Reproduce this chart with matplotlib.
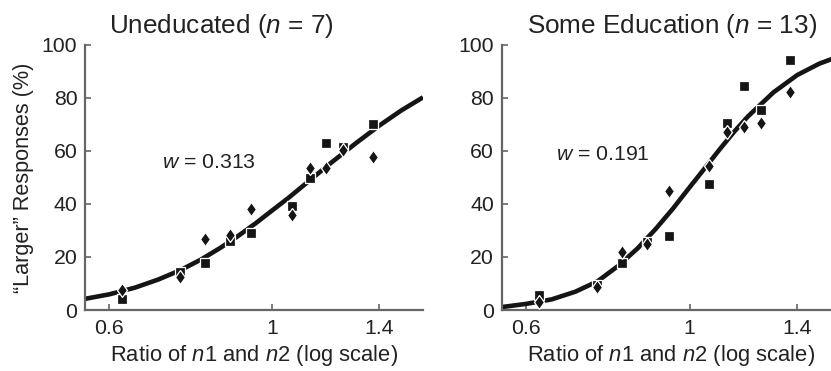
import matplotlib
matplotlib.use("Agg")
import matplotlib.pyplot as plt
from matplotlib import font_manager
from matplotlib.markers import MarkerStyle
from matplotlib.transforms import Affine2D
from matplotlib.ticker import NullLocator


def pick(fams):
    for f in fams:
        try:
            font_manager.findfont(f, fallback_to_default=False)
            return f
        except Exception:
            pass
    return "DejaVu Sans"


FONT = pick(["Liberation Sans", "DejaVu Sans"])
plt.rcParams["font.family"] = [FONT, "DejaVu Sans"]
plt.rcParams["mathtext.fontset"] = "custom"
plt.rcParams["mathtext.rm"] = FONT
plt.rcParams["mathtext.it"] = FONT + ":italic"

# ---------------- data ----------------
ratios = [0.625, 0.75, 0.81, 0.875, 0.937, 1.063, 1.125, 1.185, 1.25, 1.37]
unedu_sq = [4.0, 14.4, 17.8, 26.0, 29.1, 39.2, 49.6, 63.0, 61.5, 70.1]
unedu_di = [7.6, 12.5, 26.7, 28.4, 37.9, 35.8, 53.6, 53.5, 60.2, 57.5]
edu_sq = [5.6, 9.4, 17.6, 25.7, 27.9, 47.4, 70.3, 84.5, 75.4, 94.2]
edu_di = [3.1, 8.5, 22.0, 24.9, 44.7, 54.3, 67.1, 68.9, 70.3, 82.2]

curve_x = [0.556, 0.6, 0.65, 0.7, 0.75, 0.8, 0.85, 0.9, 0.95, 1.0, 1.05,
           1.1, 1.15, 1.2, 1.3, 1.4, 1.5, 1.605]
unedu_fit = [4.2, 5.9, 8.4, 11.5, 15.0, 19.0, 23.4, 28.0, 32.7, 37.5, 42.0,
             46.6, 51.0, 55.2, 62.8, 69.5, 75.2, 80.1]
edu_fit = [1.1, 2.3, 4.0, 6.9, 10.8, 16.6, 23.2, 30.6, 38.3, 46.2, 53.6,
           60.7, 67.2, 72.9, 82.0, 88.5, 92.8, 95.8]

titles = [r"Uneducated ($n$ = 7)", r"Some Education ($n$ = 13)"]
w_labels = [r"$w$ = 0.313", r"$w$ = 0.191"]
xticks = [0.6, 1, 1.4]
xtick_labels = ["0.6", "1", "1.4"]
yticks = [0, 20, 40, 60, 80, 100]
xlabel = r"Ratio of $n$1 and $n$2 (log scale)"
ylabel = "\u201cLarger\u201d Responses (%)"

# ---------------- figure ----------------
W, H = 831, 371
fig = plt.figure(figsize=(W / 100, H / 100), dpi=100)

axes_px = [(85, 338), (501.7, 339.3)]
bottom_px, top_px = 310, 44.5
title_cx = [221, 672.5]
wpos = [(162.5, 163), (556.5, 154)]

diamond = MarkerStyle("D", transform=Affine2D().scale(0.75, 1.0))
spine_col = "#666666"
ink = "#151515"
txt = "#222222"

panels = [(unedu_sq, unedu_di, unedu_fit), (edu_sq, edu_di, edu_fit)]

for i, (sq, di, fit) in enumerate(panels):
    x0, wpx = axes_px[i]
    ax = fig.add_axes([x0 / W, (H - bottom_px) / H, wpx / W,
                       (bottom_px - top_px) / H])
    ax.plot(curve_x, fit, color=ink, lw=3.3, solid_capstyle="butt",
            zorder=2, clip_on=True)
    ax.plot(ratios, sq, linestyle="none", marker="s", ms=7.0,
            mfc=ink, mec="white", mew=0.9, zorder=3)
    ax.plot(ratios, di, linestyle="none", marker=diamond, ms=7.0,
            mfc=ink, mec="white", mew=0.9, zorder=4)

    ax.set_xscale("log")
    ax.set_xlim(0.556, 1.605)
    ax.set_ylim(0, 100)
    ax.xaxis.set_minor_locator(NullLocator())
    ax.set_xticks(xticks)
    ax.set_xticklabels(xtick_labels)
    ax.set_yticks(yticks)
    for s in ["top", "right"]:
        ax.spines[s].set_visible(False)
    for s in ["left", "bottom"]:
        ax.spines[s].set_color(spine_col)
        ax.spines[s].set_linewidth(1.6)
    ax.tick_params(axis="both", direction="in", length=4, width=1.2,
                   color=spine_col, labelsize=15.3, labelcolor=txt)
    ax.tick_params(axis="x", pad=6.5)
    ax.tick_params(axis="y", pad=5.5)
    ax.set_xlabel(xlabel, fontsize=15.8, color=txt, labelpad=3.5)
    ax.patch.set_alpha(0)

    fig.text(title_cx[i] / W, 1 - 26 / H, titles[i], ha="center",
             va="center", fontsize=18.8, color=txt)
    fig.text(wpos[i][0] / W, 1 - wpos[i][1] / H, w_labels[i], ha="left",
             va="center", fontsize=15.3, color=txt)

fig.text(24 / W, 1 - 177.5 / H, ylabel, rotation=90, ha="center",
         va="center", fontsize=15.6, color=txt)

fig.savefig("out.png", dpi=100)
